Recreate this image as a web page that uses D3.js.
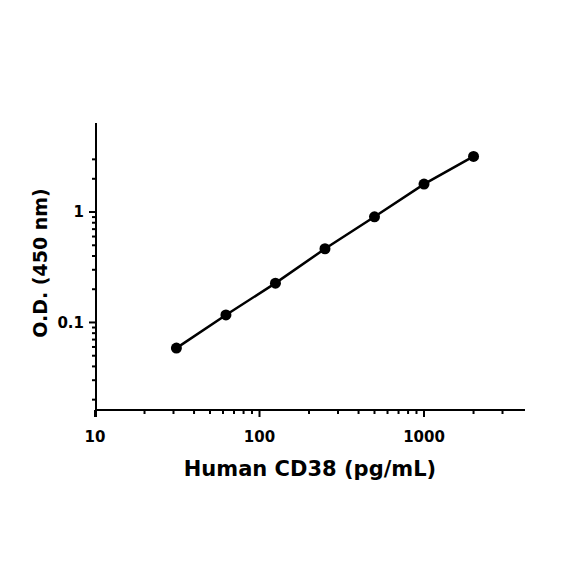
<!DOCTYPE html>
<html><head><meta charset="utf-8">
<script src="https://cdn.jsdelivr.net/npm/d3@7"></script>
<style>body{margin:0;background:#fff}svg{display:block}</style>
</head><body><svg id="c" width="584" height="584"></svg>
<script>
const concentrations = [31.25, 62.5, 125, 250, 500, 1000, 2000];
const odValues = [0.0586, 0.117, 0.227, 0.465, 0.906, 1.79, 3.19];
const xMajorTicks = [10, 100, 1000];
const xMinorTicks = [20,30,40,50,60,70,80,90,200,300,400,500,600,700,800,900,2000,3000];
const yMajorTicks = [0.1, 1];
const yMinorTicks = [0.02,0.03,0.04,0.05,0.06,0.07,0.08,0.09,0.2,0.3,0.4,0.5,0.6,0.7,0.8,0.9,2,3];
const xTitle = "Human CD38 (pg/mL)";
const yTitle = "O.D. (450 nm)";

const svg = d3.select("#c");
const font = "'DejaVu Sans', sans-serif";
const x = d3.scaleLog().domain([10, 4110]).range([95, 525]);
const y = d3.scaleLog().domain([0.01612, 6.4]).range([410, 123]);

// x axis
const gx = svg.append("g").attr("transform", "translate(0,410)");
gx.append("line").attr("x1", x.range()[0]).attr("x2", x.range()[1]).attr("stroke", "#000").attr("stroke-width", 2);
gx.selectAll(".mj").data(xMajorTicks).join("line")
  .attr("x1", d => x(d)).attr("x2", d => x(d)).attr("y1", 0).attr("y2", 7).attr("stroke", "#000").attr("stroke-width", 2);
gx.selectAll(".mn").data(xMinorTicks).join("line")
  .attr("x1", d => x(d)).attr("x2", d => x(d)).attr("y1", 0).attr("y2", 4).attr("stroke", "#000").attr("stroke-width", 2);
gx.selectAll("text").data(xMajorTicks).join("text")
  .attr("x", d => x(d)).attr("y", 442).attr("transform", "translate(0,-410)").attr("text-anchor", "middle")
  .attr("font-family", font).attr("font-weight", "bold").attr("font-size", 15).text(d => d);

// y axis
const gy = svg.append("g").attr("transform", "translate(96,0)");
gy.append("line").attr("y1", y.range()[1]).attr("y2", 417).attr("stroke", "#000").attr("stroke-width", 2);
gy.selectAll(".mj").data(yMajorTicks).join("line")
  .attr("y1", d => y(d)).attr("y2", d => y(d)).attr("x1", 0).attr("x2", -7).attr("stroke", "#000").attr("stroke-width", 2);
gy.selectAll(".mn").data(yMinorTicks).join("line")
  .attr("y1", d => y(d)).attr("y2", d => y(d)).attr("x1", 0).attr("x2", -4).attr("stroke", "#000").attr("stroke-width", 2);
gy.selectAll("text").data(yMajorTicks).join("text")
  .attr("x", -12).attr("y", d => y(d)).attr("dy", "0.36em").attr("text-anchor", "end")
  .attr("font-family", font).attr("font-weight", "bold").attr("font-size", 15).text(d => d);

// titles
svg.append("text").attr("x", 310).attr("y", 476).attr("text-anchor", "middle")
  .attr("font-family", font).attr("font-weight", "bold").attr("font-size", 21).text(xTitle);
svg.append("text").attr("transform", "translate(47,263) rotate(-90)").attr("text-anchor", "middle")
  .attr("font-family", font).attr("font-weight", "bold").attr("font-size", 19).text(yTitle);

// line + points
const data = concentrations.map((c, i) => ({c, v: odValues[i]}));
svg.append("path").datum(data)
  .attr("d", d3.line().x(d => x(d.c)).y(d => y(d.v)))
  .attr("fill", "none").attr("stroke", "#000").attr("stroke-width", 2.5);
svg.selectAll("circle").data(data).join("circle")
  .attr("cx", d => x(d.c)).attr("cy", d => y(d.v)).attr("r", 5.5).attr("fill", "#000");
</script></body></html>
